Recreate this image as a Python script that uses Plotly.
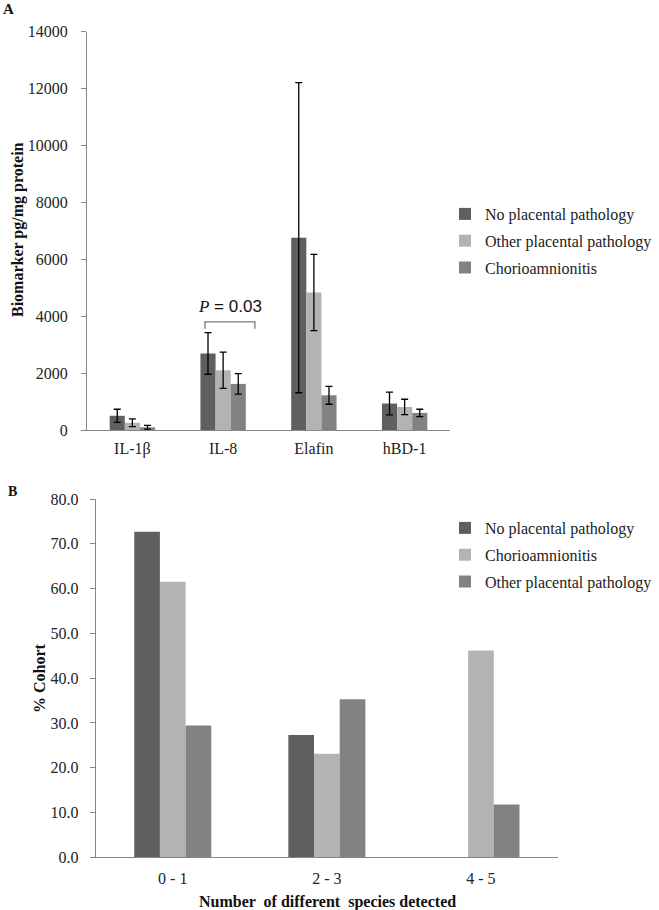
import plotly.graph_objects as go

# ---------------- Panel A data ----------------
biomarkers = ["IL-1β", "IL-8", "Elafin", "hBD-1"]
a_series_names = ["No placental pathology", "Other placental pathology", "Chorioamnionitis"]
a_no_path = [500, 2690, 6760, 930]
a_no_path_err = [230, 730, 5450, 400]
a_other_path = [255, 2100, 4830, 810]
a_other_path_err = [135, 640, 1340, 270]
a_chorio = [95, 1620, 1220, 600]
a_chorio_err = [65, 360, 315, 130]
a_yticks = [0, 2000, 4000, 6000, 8000, 10000, 12000, 14000]

# ---------------- Panel B data ----------------
species_bins = ["0 - 1", "2 - 3", "4 - 5"]
b_series_names = ["No placental pathology", "Chorioamnionitis", "Other placental pathology"]
b_no_path = [72.7, 27.3, 0.0]
b_chorio = [61.5, 23.1, 46.2]
b_other_path = [29.4, 35.3, 11.8]
b_yticks = [0, 10, 20, 30, 40, 50, 60, 70, 80]

colors = ["#5f5f5f", "#b3b3b3", "#828282"]
SERIF = "Liberation Serif, Times New Roman, serif"
W, H = 659, 910

fig = go.Figure()

a_vals = [a_no_path, a_other_path, a_chorio]
a_errs = [a_no_path_err, a_other_path_err, a_chorio_err]
for i, (name, vals, errs) in enumerate(zip(a_series_names, a_vals, a_errs)):
    fig.add_trace(go.Bar(
        x=biomarkers, y=vals, name=name, marker=dict(color=colors[i], line=dict(width=0)),
        error_y=dict(type="data", array=errs, visible=True, color="#000000", thickness=1.3, width=3.5),
        xaxis="x", yaxis="y", legend="legend", legendgroup="a%d" % i,
    ))

b_vals = [b_no_path, b_chorio, b_other_path]
for i, (name, vals) in enumerate(zip(b_series_names, b_vals)):
    fig.add_trace(go.Bar(
        x=species_bins, y=vals, name=name, marker=dict(color=colors[i], line=dict(width=0)),
        xaxis="x2", yaxis="y2", legend="legend2", legendgroup="b%d" % i,
    ))

def px_x(p):
    return p / W

def px_y(p):
    return 1 - p / H

axis_common = dict(showgrid=False, zeroline=False, showline=True, linecolor="#868686", linewidth=1,
                   automargin=False, tickfont=dict(family=SERIF, size=16, color="#222222"))

fig.update_layout(
    width=W, height=H, paper_bgcolor="white", plot_bgcolor="white",
    margin=dict(l=0, r=0, t=0, b=0, autoexpand=False),
    barmode="group", bargap=0.5, bargroupgap=0,
    font=dict(family=SERIF, size=16, color="#222222"),
    xaxis=dict(domain=[px_x(87), px_x(450)], anchor="y", ticks="", ticklabelstandoff=4, **axis_common),
    yaxis=dict(domain=[px_y(430), px_y(31.7)], anchor="x", range=[0, 14000], tickvals=a_yticks,
               tickformat="d", ticks="outside", ticklen=5, tickcolor="#868686", ticklabelstandoff=10,
               **axis_common),
    xaxis2=dict(domain=[px_x(95.7), px_x(558)], anchor="y2", ticks="", ticklabelstandoff=6, **axis_common),
    yaxis2=dict(domain=[px_y(857.3), px_y(499)], anchor="x2", range=[0, 80], tickvals=b_yticks,
                tickformat=".1f", ticks="outside", ticklen=5, tickcolor="#868686", ticklabelstandoff=8,
                **axis_common),
    legend=dict(x=px_x(445), y=px_y(197), xanchor="left", yanchor="top", bgcolor="rgba(0,0,0,0)",
                font=dict(family=SERIF, size=16, color="#222222"), traceorder="grouped", tracegroupgap=3),
    legend2=dict(x=px_x(445), y=px_y(511), xanchor="left", yanchor="top", bgcolor="rgba(0,0,0,0)",
                 font=dict(family=SERIF, size=16, color="#222222"), traceorder="grouped", tracegroupgap=3),
)

# Axis titles
title_font = dict(family=SERIF, size=16, color="#111111")
fig.add_annotation(x=px_x(18), y=px_y(230), xref="paper", yref="paper", showarrow=False, textangle=-90,
                   xanchor="center", yanchor="middle", text="<b>Biomarker pg/mg protein</b>", font=title_font)
fig.add_annotation(x=px_x(39), y=px_y(678), xref="paper", yref="paper", showarrow=False, textangle=-90,
                   xanchor="center", yanchor="middle", text="<b>% Cohort</b>", font=title_font)
fig.add_annotation(x=px_x(327), y=px_y(902), xref="paper", yref="paper", showarrow=False,
                   xanchor="center", yanchor="middle",
                   text="<b>Number  of different  species detected</b>", font=title_font)

# P-value bracket over IL-8
il8 = biomarkers.index("IL-8")
br_left, br_right = il8 - 0.2, il8 + 0.35
br_top, br_tip = 3800, 3560
fig.add_shape(type="path", xref="x", yref="y",
              path=f"M {br_left},{br_tip} L {br_left},{br_top} L {br_right},{br_top} L {br_right},{br_tip}",
              line=dict(color="#7a7a7a", width=1.3))
fig.add_annotation(x=(br_left + br_right) / 2, y=4330, xref="x", yref="y", showarrow=False,
                   text="<i>P</i><span style='font-family:Liberation Sans, Arial, sans-serif'> = 0.03</span>",
                   font=dict(family=SERIF, size=17, color="#111111"))

# Panel letters
fig.add_annotation(x=px_x(1), y=px_y(9), xref="paper", yref="paper", xanchor="left", yanchor="middle",
                   showarrow=False, text="<b>A</b>", font=dict(family=SERIF, size=15, color="#111111"))
fig.add_annotation(x=px_x(6), y=px_y(492), xref="paper", yref="paper", xanchor="left", yanchor="middle",
                   showarrow=False, text="<b>B</b>", font=dict(family=SERIF, size=14, color="#111111"))

fig.write_html("out.html", config={"displayModeBar": False},
               post_script="document.body.style.margin='0';document.body.style.padding='0';")
